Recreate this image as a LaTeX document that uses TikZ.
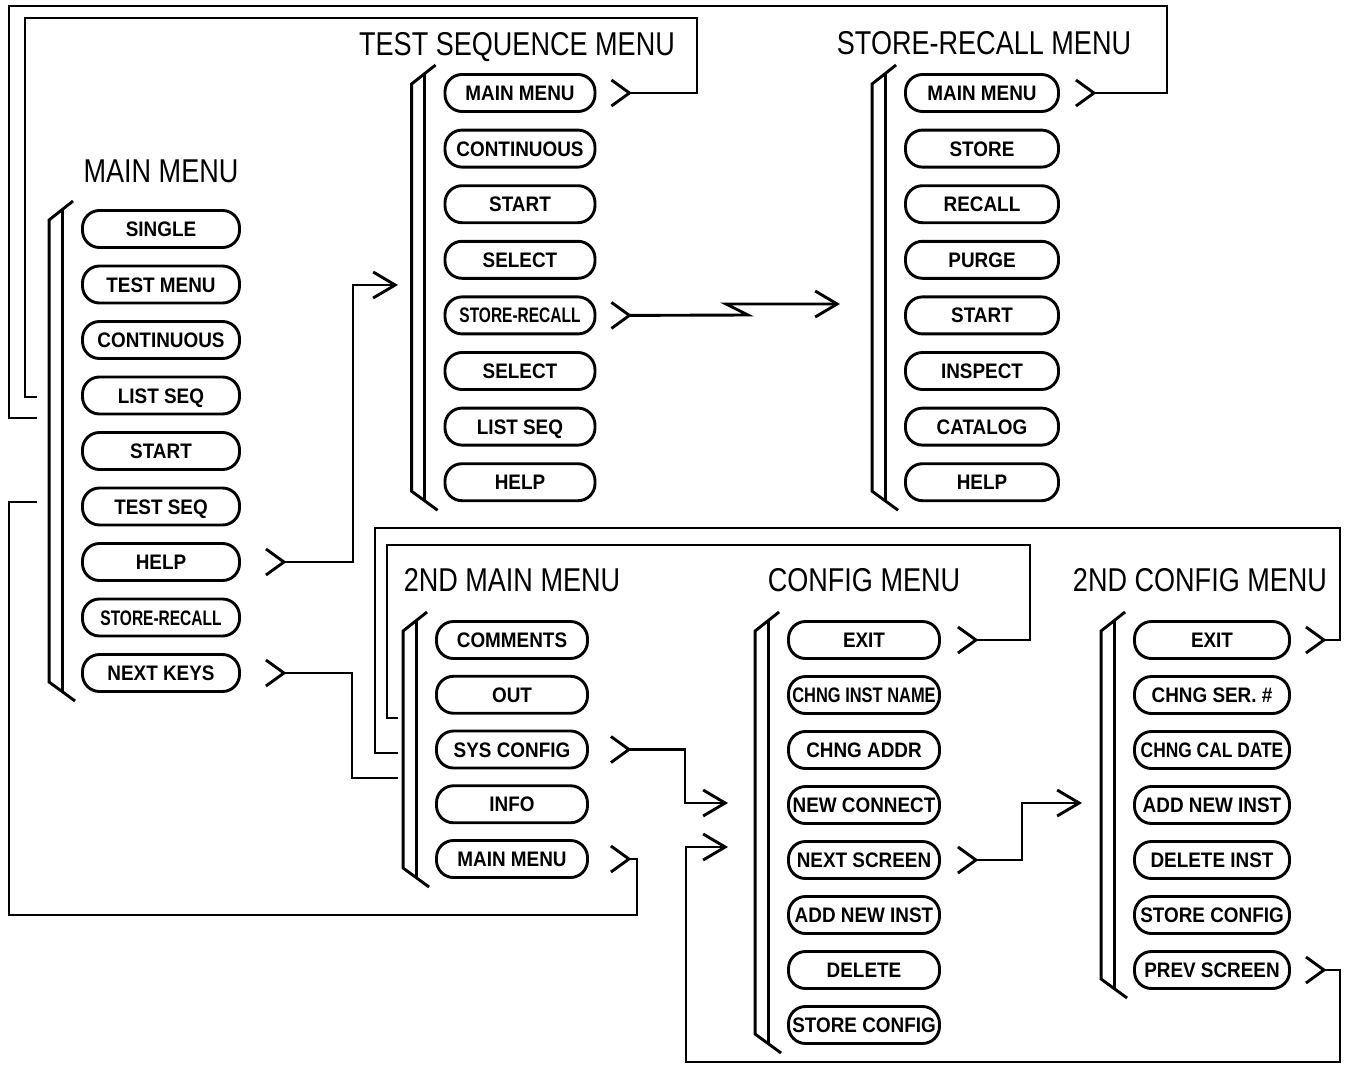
\documentclass[tikz,border=0pt]{standalone}
\usepackage{fontspec}
\usepackage{graphicx}
\setmainfont{Liberation Sans}
\newfontfamily\titlefont[FakeStretch=0.82]{Liberation Sans}
\newfontfamily\keyfont[FakeStretch=0.9]{Liberation Sans}
\usetikzlibrary{arrows.meta, calc}

\newcommand{\sqz}[2]{\scalebox{#1}[1]{#2}}

% double bar in front of a menu column, from its first to its last key
\newcommand{\menubar}[2]{%
  \draw[wire] ($(#1.west)+(-8,-28)$) -- ($(#1.west)+(-32,-9)$)
    -- ($(#2.west)+(-32,9)$) -- ($(#2.west)+(-6,28)$);
  \draw[wire] ($(#1.west)+(-19,-19.4)$) -- ($(#2.west)+(-19,18.6)$);
}

\tikzset{
  wire/.style={line width=2.9pt},
  feed/.style={wire, -{Straight Barb[length=22pt,width=26pt]}},
  key/.style={draw, line width=2.9pt, rounded corners=17pt,
    minimum width=153pt, minimum height=37pt, inner sep=0pt,
    text height=15pt, text depth=0pt,
    font=\keyfont\bfseries\fontsize{21}{21}\selectfont},
  title/.style={inner sep=0pt, text height=24pt, text depth=0pt,
    font=\titlefont\fontsize{33}{33}\selectfont},
  chev/.pic={\draw[wire] (-18,-13) -- (0,0) -- (-18,13);}
}

\begin{document}
\begin{tikzpicture}[x=1pt,y=-1pt]
  \useasboundingbox (0,0) rectangle (1346,1068);

  % Titles
  \node[title] (tmain) at (161,170) {MAIN MENU};
  \node[title] (tts) at (517,43) {TEST SEQUENCE MENU};
  \node[title] (tsr) at (984,42) {STORE-RECALL MENU};
  \node[title] (tnm) at (512,579) {2ND MAIN MENU};
  \node[title] (tcf) at (864,579) {CONFIG MENU};
  \node[title] (tnc) at (1200,579) {2ND CONFIG MENU};

  % Main menu keys
  \foreach \t [count=\i] in {SINGLE, TEST MENU, CONTINUOUS, LIST SEQ, START,
      TEST SEQ, HELP, {\sqz{0.82}{STORE-RECALL}}, NEXT KEYS}
    \node[key, minimum width=157pt] (mm\i) at (161,{229+55.5*(\i-1)}) {\t};

  % Test sequence menu keys
  \foreach \t [count=\i] in {MAIN MENU, CONTINUOUS, START, SELECT,
      {\sqz{0.82}{STORE-RECALL}}, SELECT, LIST SEQ, HELP}
    \node[key, minimum width=150pt] (ts\i) at (520,{93+55.6*(\i-1)}) {\t};

  % Store-recall menu keys
  \foreach \t [count=\i] in {MAIN MENU, STORE, RECALL, PURGE, START,
      INSPECT, CATALOG, HELP}
    \node[key] (sr\i) at (982,{93+55.6*(\i-1)}) {\t};

  % 2nd main menu keys
  \foreach \t [count=\i] in {COMMENTS, OUT, SYS CONFIG, INFO, MAIN MENU}
    \node[key, minimum width=151pt] (nm\i) at (512,{640+54.75*(\i-1)}) {\t};

  % Config menu keys
  \foreach \t [count=\i] in {EXIT, {\sqz{0.87}{CHNG INST NAME}}, CHNG ADDR,
      NEW CONNECT, NEXT SCREEN, ADD NEW INST, DELETE, STORE CONFIG}
    \node[key, minimum width=151pt] (cf\i) at (864,{640+55*(\i-1)}) {\t};

  % 2nd config menu keys
  \foreach \t [count=\i] in {EXIT, CHNG SER. \#, {\sqz{0.92}{CHNG CAL DATE}},
      ADD NEW INST, DELETE INST, STORE CONFIG, PREV SCREEN}
    \node[key, minimum width=155pt] (nc\i) at (1212,{640+55*(\i-1)}) {\t};

  % Bars
  \menubar{mm1}{mm9}
  \menubar{ts1}{ts8}
  \menubar{sr1}{sr8}
  \menubar{nm1}{nm5}
  \menubar{cf1}{cf8}
  \menubar{nc1}{nc7}

  % Key outlets
  \coordinate (o-help) at ($(mm7.east)+(43,0)$);
  \coordinate (o-next) at ($(mm9.east)+(43,0)$);
  \coordinate (o-tsmain) at ($(ts1.east)+(33,0)$);
  \coordinate (o-tssr) at ($(ts5.east)+(33,0)$);
  \coordinate (o-srmain) at ($(sr1.east)+(34,0)$);
  \coordinate (o-sys) at ($(nm3.east)+(40,0)$);
  \coordinate (o-nmmain) at ($(nm5.east)+(40,0)$);
  \coordinate (o-exit) at ($(cf1.east)+(35,0)$);
  \coordinate (o-scr) at ($(cf5.east)+(35,0)$);
  \coordinate (o-exit2) at ($(nc1.east)+(33,0)$);
  \coordinate (o-prev) at ($(nc7.east)+(33,0)$);
  \foreach \o in {help, next, tsmain, tssr, srmain, sys, nmmain, exit, scr, exit2, prev}
    \pic at (o-\o) {chev};

  % From main menu
  \draw[feed] (o-help) -| (353,285) -- (398,285);
  \draw[wire] (o-next) -| (352,778) -- (398,778);

  % Back to main menu
  \draw[wire] (o-tsmain) -| (697,18) -| (25,397) -- (37,397);
  \draw[wire] (o-srmain) -| (1167,6) -| (9,418) -- (37,418);
  \draw[wire] (o-nmmain) -| (637,915) -| (9,502) -- (37,502);

  % Test sequence to store-recall (broken line)
  \draw[feed] (o-tssr) -- (748,315) -- (726,304) -- (840,304);

  % Config screens
  \draw[feed] (o-sys) -| (685,803) -- (728,803);
  \draw[wire] (o-exit) -| (1030,545) -| (387,718) -- (398,718);
  \draw[wire] (o-exit2) -| (1340,528) -| (375,753) -- (398,753);
  \draw[feed] (o-scr) -| (1022,803) -- (1082,803);
  \draw[feed] (o-prev) -| (1340,1062) -| (686,847) -- (728,847);

\end{tikzpicture}
\end{document}
